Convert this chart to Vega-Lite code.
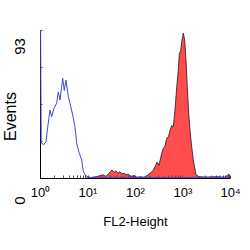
{
  "$schema": "https://vega.github.io/schema/vega-lite/v6.json",
  "autosize": "none",
  "width": 190,
  "height": 148,
  "padding": {"left": 40, "top": 30, "right": 20, "bottom": 72},
  "background": "white",
  "config": {"view": {"stroke": null}, "font": "Liberation Sans"},
  "datasets": {
    "ctrl": [
      {"x": 1.03, "y": 93}, {"x": 1.06, "y": 22}, {"x": 1.2, "y": 21}, {"x": 1.337, "y": 22.8},
      {"x": 1.425, "y": 30}, {"x": 1.624, "y": 42.7}, {"x": 1.763, "y": 38.5}, {"x": 1.971, "y": 43.8},
      {"x": 2.246, "y": 47}, {"x": 2.428, "y": 54}, {"x": 2.637, "y": 49}, {"x": 3.005, "y": 62.7},
      {"x": 3.249, "y": 55}, {"x": 3.527, "y": 61.6}, {"x": 3.945, "y": 51}, {"x": 4.283, "y": 47},
      {"x": 4.876, "y": 39.6}, {"x": 5.457, "y": 32.2}, {"x": 5.925, "y": 21.8}, {"x": 6.72, "y": 15.5},
      {"x": 7.55, "y": 11.3}, {"x": 8.16, "y": 4}, {"x": 9.3, "y": 1.3}, {"x": 10.5, "y": 0.6},
      {"x": 12, "y": 0.3}, {"x": 15, "y": 0.8}, {"x": 20, "y": 0.2}, {"x": 40, "y": 0.5},
      {"x": 100, "y": 0.3}, {"x": 300, "y": 0.4}, {"x": 1000, "y": 0.3}, {"x": 3000, "y": 0.5},
      {"x": 10000, "y": 0.3}
    ],
    "sample": [
      {"x": 9.3, "y": 0}, {"x": 14.38, "y": 0.5}, {"x": 18.34, "y": 1.5}, {"x": 21.2, "y": 2},
      {"x": 24.5, "y": 1}, {"x": 28.4, "y": 3}, {"x": 32.8, "y": 5}, {"x": 36.1, "y": 3.5},
      {"x": 39.8, "y": 4.5}, {"x": 43.9, "y": 3}, {"x": 48.3, "y": 4}, {"x": 53.2, "y": 2.5},
      {"x": 58.7, "y": 3}, {"x": 64.7, "y": 2}, {"x": 71.2, "y": 2.5}, {"x": 82.4, "y": 1},
      {"x": 95.3, "y": 1.5}, {"x": 110.2, "y": 0.5}, {"x": 127.4, "y": 0.8}, {"x": 154.6, "y": 0.5},
      {"x": 179, "y": 1.5}, {"x": 207, "y": 3}, {"x": 239, "y": 4.5}, {"x": 264, "y": 7},
      {"x": 291, "y": 10}, {"x": 320, "y": 8}, {"x": 365, "y": 15.5}, {"x": 394, "y": 18.7},
      {"x": 428, "y": 20}, {"x": 465, "y": 25}, {"x": 507, "y": 26}, {"x": 546, "y": 30},
      {"x": 593, "y": 33}, {"x": 640, "y": 32}, {"x": 695, "y": 42.7}, {"x": 755, "y": 57},
      {"x": 816, "y": 68}, {"x": 857, "y": 78}, {"x": 916, "y": 80}, {"x": 975, "y": 86.7},
      {"x": 1040, "y": 91}, {"x": 1112, "y": 86.7}, {"x": 1185, "y": 74}, {"x": 1262, "y": 57},
      {"x": 1351, "y": 40.7}, {"x": 1438, "y": 30}, {"x": 1563, "y": 19.7}, {"x": 1688, "y": 11.3},
      {"x": 1923, "y": 2}, {"x": 2152, "y": 1}, {"x": 2979, "y": 0.5}, {"x": 4832, "y": 0.8},
      {"x": 7848, "y": 0.5}, {"x": 9530, "y": 2.5}, {"x": 10000, "y": 0}
    ]
  },
  "encoding": {
    "x": {
      "field": "x", "type": "quantitative",
      "scale": {"type": "log", "domain": [1, 10000], "nice": false},
      "axis": {
        "title": "FL2-Height", "titleFontSize": 13, "titleFontWeight": "normal", "titleColor": "black", "titlePadding": 16,
        "values": [1,2,3,4,5,6,7,8,9,10,20,30,40,50,60,70,80,90,100,200,300,400,500,600,700,800,900,1000,2000,3000,4000,5000,6000,7000,8000,9000,10000],
        "labelExpr": "indexof([1,10,100,1000,10000], datum.value) >= 0 ? '10' + ['⁰','¹','²','³','⁴'][round(log(datum.value)/LN10)] : ''",
        "labelFontSize": 13, "labelColor": "black", "labelOverlap": false, "labelFlush": false, "labelBound": false,
        "labelPadding": 11,
        "grid": false, "domainColor": "black", "tickColor": "black", "tickSize": -3, "tickWidth": 0.7
      }
    },
    "y": {
      "field": "y", "type": "quantitative",
      "scale": {"domain": [0, 93], "nice": false},
      "axis": {
        "title": "Events", "titleFontSize": 16, "titleFontWeight": "normal", "titleColor": "black",
        "titleX": -30, "titleY": 86, "titleAngle": -90, "titleAlign": "center", "titleBaseline": "middle",
        "values": [0, 23.25, 46.5, 69.75, 93],
        "labelExpr": "datum.value == 0 ? '0' : datum.value == 93 ? '93' : ''",
        "labelAngle": -90, "labelAlign": "center", "labelBaseline": "bottom",
        "labelOffset": {"condition": {"test": "datum.value == 0", "value": 22}, "value": 16},
        "labelFontSize": 15, "labelColor": "black", "labelOverlap": false, "labelFlush": false, "labelBound": false,
        "labelPadding": 15,
        "grid": false, "domainColor": "black", "tickColor": "black", "tickSize": -2, "tickWidth": 0.7
      }
    }
  },
  "layer": [
    {"data": {"name": "sample"}, "mark": {"type": "area", "color": "#ff0000", "line": {"color": "#1a1a1a", "strokeWidth": 0.8}}},
    {"data": {"name": "ctrl"}, "mark": {"type": "line", "color": "#4545d8", "strokeWidth": 1}}
  ]
}
